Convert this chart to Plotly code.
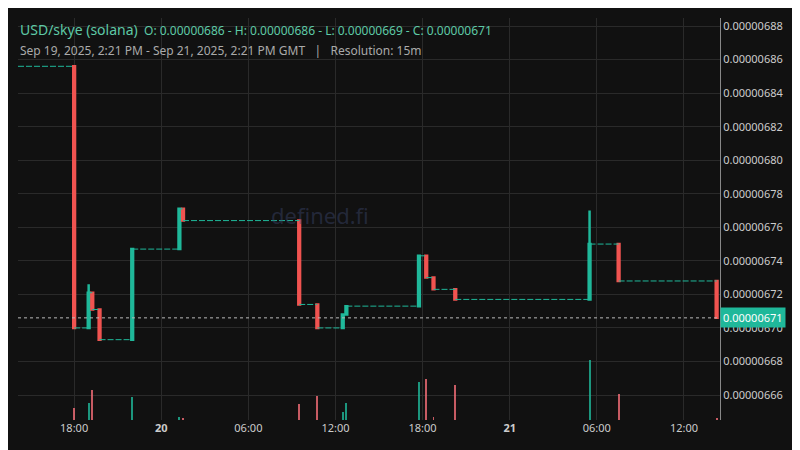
import plotly.graph_objects as go

# candle data (15m bars where price moved)
times = ["2025-09-19 18:00", "2025-09-19 19:00", "2025-09-19 19:15", "2025-09-19 19:45",
         "2025-09-19 22:00", "2025-09-20 01:15", "2025-09-20 01:30", "2025-09-20 09:30",
         "2025-09-20 10:45", "2025-09-20 12:30", "2025-09-20 12:45", "2025-09-20 17:45",
         "2025-09-20 18:15", "2025-09-20 18:45", "2025-09-20 20:15", "2025-09-21 05:30",
         "2025-09-21 07:30", "2025-09-21 14:15"]
opens = [6.856, 6.700, 6.721, 6.711, 6.693, 6.747, 6.771, 6.764, 6.714, 6.700, 6.708,
         6.713, 6.743, 6.730, 6.723, 6.717, 6.750, 6.728]
closes = [6.700, 6.721, 6.711, 6.693, 6.747, 6.771, 6.764, 6.714, 6.700, 6.708, 6.713,
          6.743, 6.730, 6.723, 6.717, 6.750, 6.728, 6.706]
highs = [6.856, 6.726, 6.721, 6.711, 6.747, 6.771, 6.771, 6.764, 6.714, 6.708, 6.713,
         6.743, 6.743, 6.730, 6.723, 6.770, 6.750, 6.728]
lows = [6.700, 6.700, 6.711, 6.693, 6.693, 6.747, 6.764, 6.714, 6.700, 6.700, 6.708,
        6.713, 6.730, 6.723, 6.717, 6.717, 6.728, 6.706]
volumes = [12, 17, 30, 0, 23, 3, 2, 16, 24, 8, 17, 38, 41, 3, 35, 60, 26, 2]
start_time = "2025-09-19 14:08"
end_time = "2025-09-21 14:29"
last_price = 6.706

tick_vals = ["2025-09-19 18:00", "2025-09-20 00:00", "2025-09-20 06:00", "2025-09-20 12:00",
             "2025-09-20 18:00", "2025-09-21 00:00", "2025-09-21 06:00", "2025-09-21 12:00"]
tick_text = ["18:00", "<b>20</b>", "06:00", "12:00", "18:00", "<b>21</b>", "06:00", "12:00"]

UP = "#1fb89a"
DOWN = "#f05350"
sc = 1e-6

o = [v * sc for v in opens]
c = [v * sc for v in closes]
h = [v * sc for v in highs]
l = [v * sc for v in lows]

fig = go.Figure()

# flat stretches between moves, drawn as dashed steps
seg_x, seg_y = [start_time, times[0], None], [o[0], o[0], None]
for i in range(len(times) - 1):
    seg_x += [times[i], times[i + 1], None]
    seg_y += [c[i], c[i], None]
fig.add_trace(go.Scatter(x=seg_x, y=seg_y, mode="lines",
                         line=dict(color=UP, width=1, dash="6px,2px"), hoverinfo="skip"))

vol_colors = ["rgba(31,184,154,0.8)" if c[i] >= o[i] else "rgba(245,110,120,0.8)"
              for i in range(len(times))]
fig.add_trace(go.Bar(x=times, y=volumes, marker_color=vol_colors, marker_line_width=0,
                     width=8 * 60 * 1000, yaxis="y2"))

fig.add_trace(go.Candlestick(x=times, open=o, high=h, low=l, close=c,
                             increasing=dict(line=dict(color=UP, width=2.5), fillcolor=UP),
                             decreasing=dict(line=dict(color=DOWN, width=2.5), fillcolor=DOWN),
                             whiskerwidth=0))

fig.add_hline(y=last_price * sc, line=dict(color="#bbbbbb", width=1, dash="dot"))

fig.update_layout(
    width=800, height=450, paper_bgcolor="#111111", plot_bgcolor="#111111",
    margin=dict(l=10, r=88, t=10, b=38, autoexpand=False), showlegend=False, bargap=0,
    font=dict(family="Noto Sans", color="#cccccc", size=11),
    xaxis=dict(range=[start_time, end_time], tickvals=tick_vals, ticktext=tick_text,
               showgrid=True, gridcolor="#2a2a2a", rangeslider=dict(visible=False),
               zeroline=False, ticks="", tickfont=dict(size=11, color="#cccccc"), automargin=False),
    yaxis=dict(side="right", range=[6.6451e-6, 6.8848e-6], dtick=2e-8, tickformat=".8f",
               gridcolor="#2a2a2a", showline=True, linecolor="#888888", zeroline=False,
               tickfont=dict(size=11, color="#cccccc"), automargin=False),
    yaxis2=dict(overlaying="y", range=[0, 400], visible=False),
)

fig.add_annotation(xref="paper", yref="y", x=1.0, y=last_price * sc, xanchor="left",
                   text="0.00000671", showarrow=False, bgcolor=UP, font=dict(color="white", size=11),
                   borderpad=2)
fig.add_annotation(xref="paper", yref="paper", x=0.43, y=0.51, text="defined.fi", showarrow=False,
                   font=dict(size=22, color="rgba(60,70,110,0.45)"))
fig.add_annotation(xref="paper", yref="paper", x=0.0, y=1.0, xanchor="left", yanchor="top",
                   showarrow=False,
                   text="<span style='font-size:14px'>USD/skye (solana)</span>  "
                        "O: 0.00000686 - H: 0.00000686 - L: 0.00000669 - C: 0.00000671",
                   font=dict(color="#5ec9a6", size=12))
fig.add_annotation(xref="paper", yref="paper", x=0.0, y=0.945, xanchor="left", yanchor="top",
                   showarrow=False,
                   text="Sep 19, 2025, 2:21 PM - Sep 21, 2025, 2:21 PM GMT   |   Resolution: 15m",
                   font=dict(color="#aaaaaa", size=12))

fig.write_html("out.html")
